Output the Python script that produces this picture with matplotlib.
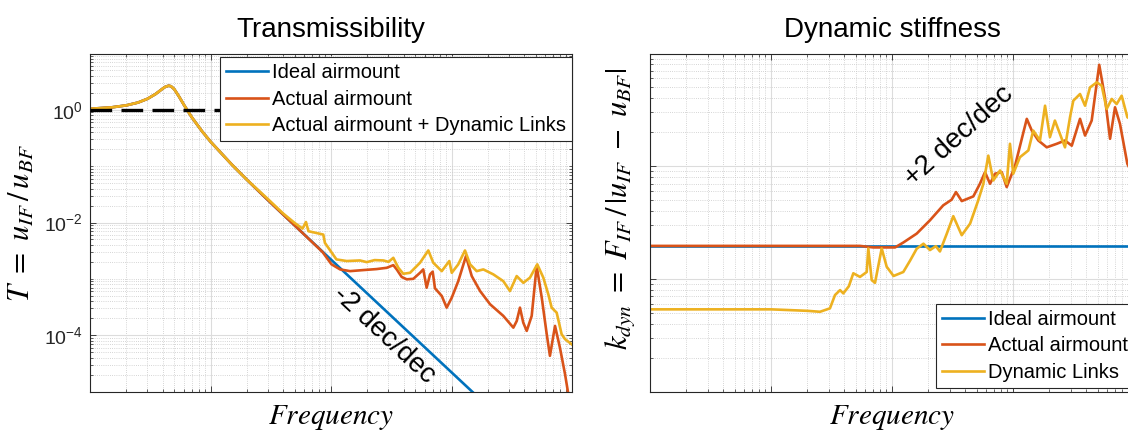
import matplotlib
matplotlib.use("Agg")
import matplotlib.pyplot as plt
from matplotlib.lines import Line2D
from matplotlib.ticker import LogLocator, NullFormatter, FixedLocator

plt.rcParams['font.family'] = ['Liberation Sans', 'DejaVu Sans']
plt.rcParams['mathtext.fontset'] = 'stix'

# ---------------- data ----------------
# Transmissibility: low-frequency part shared by all three curves
f_common = [0.1, 0.15, 0.2, 0.25, 0.3, 0.35, 0.4, 0.42, 0.45, 0.47,
            0.5, 0.55, 0.6, 0.7, 0.85, 1.0, 1.5, 2.0]
T_common = [1.044, 1.104, 1.20, 1.346, 1.569, 1.907, 2.37, 2.55, 2.68, 2.62,
            2.33, 1.70, 1.239, 0.735, 0.417, 0.273, 0.107, 0.0577]

f_ideal_tail = [3.0, 5.0, 10.0, 100.0, 1000.0]
T_ideal_tail = [0.0249, 8.84e-3, 2.195e-3, 2.19e-5, 2.19e-7]

f_actual_tail = [3.0, 5.0, 7.0, 8.5, 10.1, 11.9, 14.4, 18.5, 23.9, 29.0,
                 32.9, 35.1, 38.6, 42.5, 48.2, 54.8, 58.3, 62.2, 66.4, 69.8,
                 72.9, 83.0, 91.2, 100.5, 113.8, 131.8, 147.2, 172.6, 208.9, 269,
                 326, 348, 370, 394, 421, 463, 509, 561, 617, 656,
                 723, 794, 875, 931, 1000]
T_actual_tail = [0.0249, 8.84e-3, 4.45e-3, 3.0e-3, 1.81e-3, 1.47e-3, 1.37e-3, 1.43e-3, 1.49e-3, 1.57e-3,
                 1.75e-3, 1.47e-3, 1.08e-3, 9.8e-4, 1.0e-3, 1.28e-3, 1.47e-3, 6.96e-4, 1.20e-3, 1.34e-3,
                 6.8e-4, 4.97e-4, 3.08e-4, 4.63e-4, 9.1e-4, 2.53e-3, 1.12e-3, 6.08e-4, 3.54e-4, 2.20e-4,
                 1.36e-4, 1.79e-4, 3.08e-4, 1.67e-4, 1.19e-4, 2.20e-4, 1.69e-3, 4.63e-4, 1.04e-4, 4.30e-5,
                 1.46e-4, 6.0e-5, 2.04e-5, 9.1e-6, 3.0e-6]

f_links_tail = [3.0, 4.0, 5.0, 5.8, 6.2, 6.5, 7.6, 8.63, 8.9, 11.1,
                13.5, 17.4, 19.8, 23.0, 27.2, 30.0, 32.9, 36.2, 39.8, 45.3,
                54.8, 64.2, 70.6, 83.0, 95.9, 100.5, 113.8, 129.4, 142.6, 161.8,
                183.7, 222.3, 269, 305.7, 347.5, 394.5, 448, 515, 578, 636,
                678, 746, 820, 875, 993]
T_links_tail = [0.026, 0.0145, 0.0098, 0.0078, 0.0102, 0.0070, 6.5e-3, 6.1e-3, 4.35e-3, 2.21e-3,
                2.07e-3, 2.12e-3, 1.98e-3, 2.15e-3, 2.12e-3, 2.0e-3, 2.36e-3, 1.57e-3, 1.23e-3, 1.28e-3,
                1.93e-3, 3.19e-3, 1.93e-3, 1.37e-3, 2.07e-3, 1.28e-3, 1.81e-3, 3.19e-3, 1.81e-3, 1.37e-3,
                1.47e-3, 1.20e-3, 9.1e-4, 6.08e-4, 1.12e-3, 8.5e-4, 1.05e-3, 1.81e-3, 1.05e-3, 5.3e-4,
                3.08e-4, 2.51e-4, 1.04e-4, 8.5e-5, 6.9e-5]

f_unity = [0.1, 10.0]
T_unity = [1.0, 1.0]

# Dynamic stiffness
f_k_ideal = [0.1, 1000.0]
k_ideal = [1.96e6, 1.96e6]

f_k_actual = [0.1, 5.44, 7.0, 10.6, 12.4, 16.0, 20.6, 26.5, 31.1, 33.8,
              37.7, 47.0, 53.3, 58.7, 64.6, 71.0, 80.7, 88.7, 104, 130,
              143, 162, 190, 230, 269, 306, 358, 394, 447, 516,
              575, 634, 697, 766, 881, 1000]
k_actual = [1.96e6, 1.96e6, 1.90e6, 1.90e6, 2.10e6, 2.52e6, 3.31e6, 4.49e6, 5.04e6, 5.89e6,
            4.90e6, 5.39e6, 6.98e6, 8.85e6, 6.98e6, 8.57e6, 8.85e6, 6.52e6, 1.01e7, 2.63e7,
            2.07e7, 1.69e7, 1.47e7, 1.58e7, 1.69e7, 1.52e7, 2.63e7, 1.87e7, 2.54e7, 7.94e7,
            4.08e7, 1.75e7, 3.33e7, 2.37e7, 1.05e7, 8.0e6]

f_k_links = [0.1, 1.0, 2.0, 2.54, 3.07, 3.38, 3.72, 3.96, 4.4, 4.79,
             5.44, 6.18, 6.37, 6.80, 7.24, 8.22, 9.04, 10.3, 12.4, 14.1,
             16.0, 18.2, 20.6, 23.0, 24.9, 28.3, 32.1, 37.7, 44.2, 51.6,
             56.9, 62.5, 68.7, 78.2, 88.7, 94.4, 100.5, 114, 134, 147,
             167, 184, 202, 222, 244, 269, 296, 315, 358, 394,
             433, 492, 541, 594, 655, 719, 791, 881, 1000]
k_links = [5.36e5, 5.36e5, 5.2e5, 5.10e5, 5.47e5, 7.18e5, 7.94e5, 7.43e5, 8.6e5, 1.12e6,
           1.04e6, 1.15e6, 1.86e6, 9.73e5, 9.22e5, 1.86e6, 1.28e6, 1.06e6, 1.15e6, 1.45e6,
           1.85e6, 2.05e6, 1.8e6, 1.95e6, 1.75e6, 2.5e6, 3.6e6, 2.44e6, 3.09e6, 4.97e6,
           6.98e6, 1.24e7, 7.47e6, 9.16e6, 6.98e6, 1.58e7, 8.57e6, 1.20e7, 1.38e7, 2.07e7,
           1.69e7, 3.44e7, 1.81e7, 2.54e7, 1.94e7, 1.47e7, 2.72e7, 3.81e7, 4.37e7, 3.44e7,
           5.0e7, 5.54e7, 5.18e7, 3.22e7, 3.95e7, 3.56e7, 4.22e7, 2.72e7, 2.5e7]

labels_T = ['Ideal airmount', 'Actual airmount', 'Actual airmount + Dynamic Links']
labels_k = ['Ideal airmount', 'Actual airmount', 'Dynamic Links']

# ---------------- style ----------------
C_BLUE, C_RED, C_YEL = '#0072BD', '#D95319', '#EDB120'
LW = 1.9
AX_COL = '#262626'

fig = plt.figure(figsize=(11.28, 4.30), dpi=100)
ax1 = fig.add_axes([90 / 1128, 38.5 / 430, 482 / 1128, 338 / 430])
ax2 = fig.add_axes([650 / 1128, 38.5 / 430, 484 / 1128, 338 / 430])


def style_axes(ax, ylim, major_y, decades):
    ax.set_xscale('log')
    ax.set_yscale('log')
    ax.set_xlim(0.1, 1000)
    ax.set_ylim(*ylim)
    ax.xaxis.set_major_locator(LogLocator(base=10, numticks=20))
    ax.xaxis.set_minor_locator(LogLocator(base=10, subs=range(2, 10), numticks=60))
    ax.xaxis.set_major_formatter(NullFormatter())
    ax.xaxis.set_minor_formatter(NullFormatter())
    minor_y = [m * 10.0 ** e for e in decades for m in range(1, 10)
               if not (m == 1 and 10.0 ** e in major_y)]
    ax.yaxis.set_major_locator(FixedLocator(major_y))
    ax.yaxis.set_minor_locator(FixedLocator(minor_y))
    ax.yaxis.set_minor_formatter(NullFormatter())
    ax.grid(which='major', color='#dcdcdc', lw=0.8, ls='-')
    ax.grid(which='minor', color='#c8c8c8', lw=0.6, ls=(0, (1, 1.6)))
    ax.set_axisbelow(True)
    ax.tick_params(which='both', direction='in', top=True, right=True,
                   color=AX_COL, labelcolor=AX_COL, labelsize=14, pad=5)
    ax.tick_params(which='major', length=4, width=0.6)
    ax.tick_params(which='minor', length=2.5, width=0.5)
    for s in ax.spines.values():
        s.set_color(AX_COL)
        s.set_linewidth(0.8)


legend_kw = dict(borderaxespad=0, fancybox=False, framealpha=1, edgecolor=AX_COL,
                 fontsize=14.5, handlelength=2.1, handletextpad=0.2,
                 labelspacing=0.38, borderpad=0.3)

# ---------------- transmissibility ----------------
style_axes(ax1, (1e-5, 1e1), [1e-4, 1e-2, 1e0], range(-5, 1))
ax1.plot(f_common + f_ideal_tail, T_common + T_ideal_tail, color=C_BLUE, lw=LW, zorder=2)
ax1.plot(f_common + f_actual_tail, T_common + T_actual_tail, color=C_RED, lw=LW, zorder=2.1)
ax1.plot(f_common + f_links_tail, T_common + T_links_tail, color=C_YEL, lw=LW, zorder=2.2)
ax1.plot(f_unity, T_unity, color='black', lw=2.4, ls=(0, (6.5, 2.8)), zorder=4)
ax1.text(27.5, 1.0e-4, '-2 dec/dec', rotation=-43, rotation_mode='anchor',
         ha='center', va='center', fontsize=20)
ax1.set_title('Transmissibility', fontsize=20, pad=12)
ax1.set_xlabel('$Frequency$', fontsize=21, labelpad=3)
ax1.set_ylabel(r'$T\ =\ u_{IF}\,/\,u_{BF}$', fontsize=22, labelpad=5)

handles = [Line2D([], [], color=c, lw=LW) for c in (C_BLUE, C_RED, C_YEL)]
leg1 = ax1.legend(handles, labels_T, loc='upper right', bbox_to_anchor=(1.0, 0.99), **legend_kw)
leg1.get_frame().set_linewidth(0.8)
leg1.set_zorder(5)

# ---------------- dynamic stiffness ----------------
style_axes(ax2, (1e5, 1e8), [1e5, 1e6, 1e7, 1e8], range(5, 8))
ax2.yaxis.set_major_formatter(NullFormatter())
ax2.plot(f_k_ideal, k_ideal, color=C_BLUE, lw=LW, zorder=2)
ax2.plot(f_k_actual, k_actual, color=C_RED, lw=LW, zorder=2.1)
ax2.plot(f_k_links, k_links, color=C_YEL, lw=LW, zorder=2.2)
ax2.text(35.8, 1.83e7, '+2 dec/dec', rotation=42, rotation_mode='anchor',
         ha='center', va='center', fontsize=20)
ax2.set_title('Dynamic stiffness', fontsize=20, pad=12)
ax2.set_xlabel('$Frequency$', fontsize=21, labelpad=3)
ax2.set_ylabel(r'$k_{dyn}\ =\ F_{IF}\,/\,|u_{IF}\ -\ u_{BF}|$', fontsize=22)
ax2.yaxis.set_label_coords(-0.025, 0.54)
leg2 = ax2.legend(handles, labels_k, loc='lower right', bbox_to_anchor=(1.0, 0.01), **legend_kw)
leg2.get_frame().set_linewidth(0.8)

fig.savefig('out.png', dpi=100)
